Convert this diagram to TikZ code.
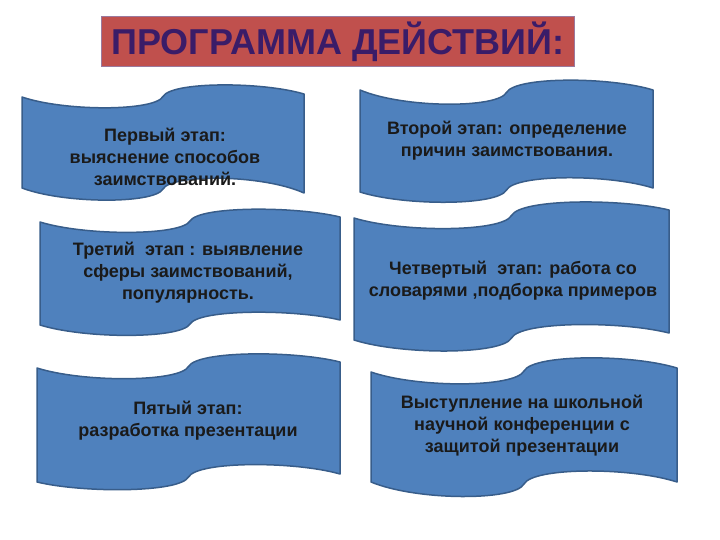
\documentclass[tikz,border=0pt]{standalone}
\usepackage{fontspec}
\setmainfont{Liberation Sans}
\definecolor{wavefill}{HTML}{4F81BD}
\definecolor{waveline}{HTML}{385D8A}
\definecolor{titlefill}{HTML}{C0504D}
\definecolor{titleline}{HTML}{9A7A9E}
\definecolor{titletext}{HTML}{3A1C68}
\definecolor{bodytext}{HTML}{1A1A1A}
% #1 L, #2 R, #3 top-left, #4 top-mid, #5 top-right, #6 bottom-left, #7 bottom-mid, #8 bottom-right, #9 wave depth
\newcommand\wavebox[9]{%
  \filldraw[wave]
    (#1,#3) .. controls ({#1+0.15*(#2-#1)},{#4+#9}) and ({(#1+#2)/2-0.03*(#2-#1)},{#4+#9}) .. ({(#1+#2)/2},#4)
    .. controls ({(#1+#2)/2+0.03*(#2-#1)},{#4-#9}) and ({#2-0.15*(#2-#1)},{#4-#9}) .. (#2,#5)
    -- (#2,#8) .. controls ({#2-0.15*(#2-#1)},{#7-#9}) and ({(#1+#2)/2+0.03*(#2-#1)},{#7-#9}) .. ({(#1+#2)/2},#7)
    .. controls ({(#1+#2)/2-0.03*(#2-#1)},{#7+#9}) and ({#1+0.15*(#2-#1)},{#7+#9}) .. (#1,#6)
    -- cycle;}
\begin{document}
\begin{tikzpicture}[x=1pt,y=-1pt,
  wave/.style={fill=wavefill,draw=waveline,line width=1.5pt,line join=round},
  stagetext/.style={align=center,text=bodytext,font=\fontsize{18}{22}\selectfont\bfseries,inner sep=0pt},
  titlebox/.style={fill=titlefill,draw=titleline,line width=1pt}]
\useasboundingbox (0,0) rectangle (720,540);
% title
\draw[titlebox] (101,17) rectangle (574,67);
\node[font=\fontsize{36}{40}\selectfont\bfseries,text=titletext,inner sep=0pt] (title) at (338,42) {ПРОГРАММА ДЕЙСТВИЙ:};
% waves
\wavebox{22}{304}{97}{96.5}{94}{188}{189}{193}{15}
\wavebox{360}{653}{90}{92.5}{90}{192}{190}{188}{16}
\wavebox{40}{340}{222}{221}{217}{325}{324}{320}{15}
\wavebox{354}{669}{218}{215.5}{210}{340}{338}{333}{17}
\wavebox{37}{340}{368}{366.5}{362}{482}{477}{474}{16}
\wavebox{371}{677}{372}{371}{368}{482}{484}{482}{17}
% texts
\node[stagetext] (s1) at (165,157) {Первый этап:\\выяснение способов\\заимствований.};
\node[stagetext] (s2) at (507,140.5) {Второй этап: определение\\причин заимствования.};
\node[stagetext] (s3) at (188,273) {Третий\ \ этап : выявление\\сферы заимствований,\\популярность.};
\node[stagetext] (s4) at (513,281) {Четвертый\ \ этап: работа со\\словарями ,подборка примеров};
\node[stagetext] (s5) at (188,421) {Пятый этап:\\разработка презентации};
\node[stagetext] (s6) at (522,426) {Выступление на школьной\\научной конференции с\\защитой презентации};
\end{tikzpicture}
\end{document}
